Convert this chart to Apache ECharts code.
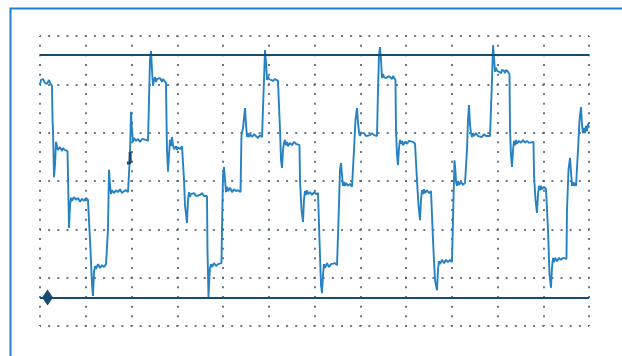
<!DOCTYPE html>
<html>
<head>
<meta charset="utf-8">
<script src="https://cdn.jsdelivr.net/npm/echarts@6/dist/echarts.min.js"></script>
<style>
  html, body { margin: 0; padding: 0; background: #ffffff; }
  #scope { width: 622px; height: 356px; }
</style>
</head>
<body>
<div id="scope"></div>
<script>
// Captured waveform: time in ms (1 ms/div), amplitude in V (1 V/div), split by cycle.
const cycle1 = [
  [0, 1.99], [0.022, 2.09], [0.044, 2.05], [0.066, 2.11], [0.109, 2.03], [0.131, 2.07], [0.153, 2.01],
  [0.197, 2.09], [0.219, 2.03], [0.240, 2.05], [0.262, 1.97],
  [0.273, 1.30], [0.284, 1.06], [0.306, 0.08], [0.328, 0.33], [0.350, 0.81], [0.372, 0.72], [0.393, 0.64],
  [0.437, 0.70], [0.481, 0.62], [0.503, 0.68], [0.547, 0.64], [0.568, 0.68], [0.601, 0.62],
  [0.612, 0.12], [0.634, -0.97], [0.656, -0.50], [0.678, -0.35], [0.699, -0.41], [0.743, -0.33], [0.787, -0.39],
  [0.831, -0.35], [0.874, -0.43], [0.918, -0.37], [0.962, -0.41], [1.005, -0.35], [1.049, -0.39], [1.082, -0.43],
  [1.104, -1.43], [1.137, -2.15], [1.158, -2.38], [1.180, -1.88], [1.202, -1.76], [1.224, -1.82], [1.268, -1.72],
  [1.311, -1.80], [1.355, -1.74], [1.399, -1.78], [1.443, -1.72], [1.475, -1.76],
  [1.486, -1.01], [1.508, 0.23], [1.530, -0.08], [1.552, -0.27], [1.574, -0.19], [1.617, -0.25], [1.661, -0.19],
  [1.705, -0.23], [1.749, -0.17], [1.792, -0.25], [1.836, -0.21], [1.880, -0.19], [1.924, -0.23], [1.956, -0.21],
  [1.967, 0.54], [1.989, 1.43], [2.011, 1.06], [2.033, 0.81], [2.055, 0.89], [2.098, 0.83], [2.142, 0.87],
  [2.186, 0.81], [2.230, 0.87], [2.273, 0.83], [2.317, 0.85], [2.361, 0.83],
  [2.383, 1.68], [2.404, 2.50], [2.426, 2.69]
];
const cycle2 = [
  [2.448, 2.30], [2.470, 1.97], [2.492, 2.09], [2.514, 2.15], [2.536, 2.05], [2.557, 2.11], [2.579, 2.07],
  [2.623, 2.13], [2.645, 2.09], [2.667, 2.05], [2.689, 2.11], [2.710, 2.07], [2.754, 2.03],
  [2.765, 1.26], [2.776, 0.64], [2.798, 0.19], [2.820, 0.54], [2.842, 0.85], [2.863, 0.72], [2.885, 0.91],
  [2.907, 0.74], [2.929, 0.66], [2.973, 0.72], [2.995, 0.64], [3.016, 0.70], [3.060, 0.66], [3.104, 0.72], [3.137, 0.68],
  [3.148, 0.02], [3.169, -0.50], [3.213, -0.87], [3.235, -0.39], [3.257, -0.23], [3.279, -0.33], [3.301, -0.27],
  [3.322, -0.31], [3.366, -0.25], [3.410, -0.31], [3.453, -0.27], [3.497, -0.29], [3.541, -0.25], [3.585, -0.31],
  [3.628, -0.27], [3.650, -0.31],
  [3.661, -1.43], [3.683, -2.40], [3.705, -1.94], [3.716, -1.80], [3.738, -1.72], [3.760, -1.78], [3.803, -1.70],
  [3.847, -1.76], [3.891, -1.72], [3.934, -1.74], [3.967, -1.70],
  [3.978, -1.01], [4.000, 0.12], [4.022, 0.29], [4.044, 0.02], [4.066, -0.23], [4.087, -0.12], [4.109, -0.21],
  [4.153, -0.14], [4.197, -0.23], [4.240, -0.17], [4.284, -0.21], [4.328, -0.19], [4.383, -0.23],
  [4.404, 0.95], [4.437, 1.10], [4.481, 1.51], [4.503, 1.16], [4.525, 0.91], [4.547, 0.99], [4.568, 0.91],
  [4.590, 0.97], [4.634, 0.91], [4.678, 0.97], [4.721, 0.93], [4.765, 0.89], [4.809, 0.95], [4.853, 0.91], [4.885, 0.93],
  [4.896, 2.09], [4.918, 2.71]
];
const cycle3 = [
  [4.940, 2.46], [4.962, 2.09], [4.984, 2.17], [5.005, 2.11], [5.027, 2.15], [5.049, 2.09], [5.071, 2.13],
  [5.093, 2.07], [5.137, 2.11], [5.158, 2.09], [5.180, 2.13], [5.202, 2.07], [5.235, 2.05],
  [5.246, 1.06], [5.268, 0.43], [5.290, 0.27], [5.311, 0.64], [5.333, 0.79], [5.355, 0.85], [5.377, 0.74],
  [5.399, 0.81], [5.421, 0.72], [5.464, 0.79], [5.508, 0.74], [5.552, 0.81], [5.596, 0.77], [5.639, 0.79], [5.672, 0.74],
  [5.683, 0.02], [5.716, -0.60], [5.749, -0.85], [5.770, -0.39], [5.792, -0.21], [5.814, -0.29], [5.836, -0.19],
  [5.858, -0.27], [5.902, -0.23], [5.945, -0.29], [5.989, -0.23], [6.033, -0.27], [6.077, -0.25], [6.098, -0.27],
  [6.109, -1.22], [6.142, -2.15], [6.164, -2.32], [6.186, -1.94], [6.208, -1.72], [6.230, -1.80], [6.273, -1.70],
  [6.317, -1.78], [6.361, -1.72], [6.404, -1.76], [6.448, -1.70], [6.492, -1.74], [6.514, -1.72],
  [6.525, -0.81], [6.557, 0.23], [6.579, 0.37], [6.601, 0.12], [6.623, -0.10], [6.645, -0.02], [6.667, -0.10],
  [6.689, -0.04], [6.732, -0.10], [6.776, -0.06], [6.820, -0.12], [6.853, -0.08],
  [6.863, 0.64], [6.896, 1.26], [6.929, 1.51], [6.951, 1.22], [6.973, 1.01], [6.995, 0.93], [7.016, 0.99],
  [7.038, 0.95], [7.082, 0.99], [7.126, 0.93], [7.169, 0.97], [7.213, 0.95], [7.257, 0.99], [7.301, 0.95],
  [7.344, 0.97], [7.366, 0.93],
  [7.388, 1.88], [7.410, 2.61], [7.432, 2.77]
];
const cycle4 = [
  [7.454, 2.50], [7.475, 2.13], [7.497, 2.21], [7.519, 2.15], [7.541, 2.19], [7.563, 2.13], [7.585, 2.17],
  [7.606, 2.11], [7.628, 2.17], [7.650, 2.13], [7.694, 2.11], [7.716, 2.17], [7.738, 2.13], [7.770, 2.09],
  [7.781, 1.06], [7.803, 0.54], [7.825, 0.33], [7.847, 0.68], [7.869, 0.85], [7.891, 0.77], [7.913, 0.83],
  [7.934, 0.74], [7.978, 0.81], [8.022, 0.77], [8.066, 0.83], [8.109, 0.79], [8.153, 0.81], [8.197, 0.77], [8.230, 0.79],
  [8.240, 0.02], [8.273, -0.50], [8.306, -0.81], [8.328, -0.39], [8.350, -0.19], [8.372, -0.27], [8.393, -0.17],
  [8.415, -0.25], [8.459, -0.19], [8.503, -0.25], [8.547, -0.21], [8.579, -0.23],
  [8.590, -1.22], [8.634, -2.05], [8.678, -2.26], [8.699, -1.84], [8.721, -1.66], [8.743, -1.72], [8.787, -1.63],
  [8.831, -1.70], [8.874, -1.63], [8.918, -1.68], [8.962, -1.63], [9.005, -1.68], [9.027, -1.66],
  [9.038, -0.39], [9.060, 0.43], [9.082, 0.19], [9.093, -0.02], [9.115, -0.10], [9.137, 0.00], [9.158, -0.08],
  [9.202, -0.02], [9.246, -0.08], [9.290, -0.04], [9.322, -0.06],
  [9.333, 0.64], [9.355, 1.26], [9.377, 1.57], [9.399, 1.16], [9.421, 0.99], [9.443, 0.91], [9.464, 0.99],
  [9.486, 0.93], [9.530, 0.99], [9.574, 0.93], [9.617, 0.97], [9.661, 0.91], [9.705, 0.97], [9.749, 0.93],
  [9.792, 0.97], [9.836, 0.93], [9.858, 0.95],
  [9.880, 2.09], [9.902, 2.81]
];
const cycle5 = [
  [9.924, 2.55], [9.945, 2.26], [9.967, 2.34], [9.989, 2.28], [10.011, 2.32], [10.033, 2.26], [10.055, 2.30],
  [10.077, 2.23], [10.098, 2.30], [10.142, 2.28], [10.164, 2.23], [10.186, 2.30], [10.230, 2.26], [10.262, 2.21],
  [10.273, 1.06], [10.295, 0.54], [10.317, 0.29], [10.339, 0.64], [10.361, 0.83], [10.383, 0.74], [10.404, 0.85],
  [10.426, 0.77], [10.470, 0.83], [10.514, 0.79], [10.557, 0.85], [10.601, 0.79], [10.645, 0.83], [10.689, 0.79],
  [10.732, 0.83], [10.787, 0.81],
  [10.798, 0.12], [10.831, -0.39], [10.863, -0.66], [10.885, -0.29], [10.907, -0.10], [10.929, -0.19],
  [10.951, -0.10], [10.973, -0.17], [11.016, -0.12], [11.060, -0.17], [11.093, -0.14],
  [11.104, -1.01], [11.137, -1.94], [11.169, -2.21], [11.191, -1.80], [11.213, -1.59], [11.235, -1.68],
  [11.257, -1.59], [11.301, -1.66], [11.344, -1.59], [11.388, -1.63], [11.432, -1.59], [11.475, -1.63], [11.508, -1.61],
  [11.519, -0.60], [11.552, 0.23], [11.585, 0.48], [11.607, 0.19], [11.628, -0.10], [11.650, -0.02],
  [11.672, -0.10], [11.694, -0.04], [11.716, -0.10], [11.749, -0.06],
  [11.760, 0.64], [11.792, 1.26], [11.825, 1.53], [11.847, 1.16], [11.869, 0.99], [11.891, 1.10],
  [11.913, 0.99], [11.934, 1.14], [11.956, 1.03], [11.978, 1.18], [12.0, 1.10]
];

// Short darker stretch of the trace near the first rising edge.
const triggerMark = [[1.90, 0.37], [1.97, 0.37], [1.97, 0.60]];

// Horizontal amplitude cursors (V) and the cursor handle position (ms).
const cursorLevels = [2.62, -2.41];
const cursorHandle = [[0.164, -2.41]];

// Screen: 12 horizontal and 6 vertical divisions.
const timeRange = [0, 12];
const voltRange = [-3, 3];

const trace = [].concat(cycle1, cycle2, cycle3, cycle4, cycle5);

const chart = echarts.init(document.getElementById('scope'), null, { renderer: 'canvas' });

const dotColor = '#50627a';
const traceColor = '#2682c2';
const cursorColor = '#1b4a6f';

chart.setOption({
  animation: false,
  backgroundColor: '#ffffff',
  grid: { left: 40, right: 33, top: 36, bottom: 30, containLabel: false },
  xAxis: {
    type: 'value',
    min: timeRange[0], max: timeRange[1], interval: 1,
    axisLine: { show: false }, axisTick: { show: false }, axisLabel: { show: false },
    splitLine: {
      show: true,
      lineStyle: { color: dotColor, width: 2, type: [2, 7.667], dashOffset: 1, opacity: 0.85 }
    }
  },
  yAxis: {
    type: 'value',
    min: voltRange[0], max: voltRange[1], interval: 1,
    axisLine: { show: false }, axisTick: { show: false }, axisLabel: { show: false },
    splitLine: {
      show: true,
      lineStyle: { color: dotColor, width: 2, type: [2, 7.15], dashOffset: 1, opacity: 0.85 }
    }
  },
  graphic: [{
    type: 'polyline',
    silent: true,
    shape: { points: [[10.5, 356], [10.5, 8.5], [622, 8.5]] },
    style: { stroke: '#1f7fd4', lineWidth: 2, fill: null }
  }],
  series: [
    {
      name: 'CH1',
      type: 'line',
      data: trace,
      showSymbol: false,
      lineStyle: { color: traceColor, width: 1.9 },
      z: 3
    },
    {
      name: 'trigger',
      type: 'line',
      data: triggerMark,
      showSymbol: false,
      lineStyle: { color: cursorColor, width: 3 },
      z: 4
    },
    {
      name: 'cursors',
      type: 'line',
      data: [],
      markLine: {
        silent: true,
        symbol: 'none',
        label: { show: false },
        lineStyle: { color: cursorColor, width: 2, type: 'solid', opacity: 1 },
        data: cursorLevels.map(v => ({ yAxis: v }))
      },
      z: 5
    },
    {
      name: 'handle',
      type: 'scatter',
      data: cursorHandle,
      symbol: 'diamond',
      symbolSize: [11, 16],
      itemStyle: { color: cursorColor, opacity: 1 },
      z: 6
    }
  ]
});
</script>
</body>
</html>
